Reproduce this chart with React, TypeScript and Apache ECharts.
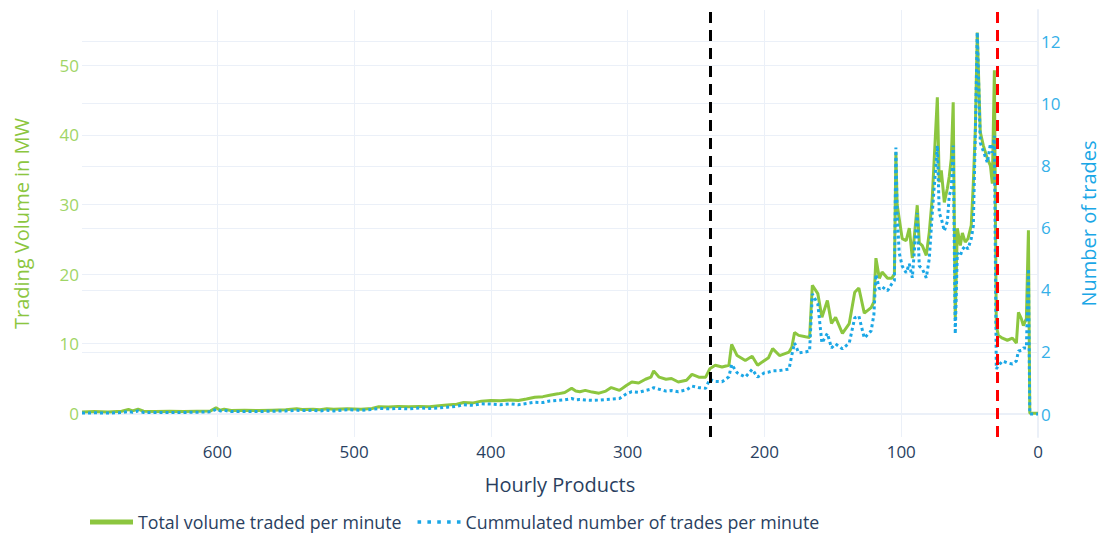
import React, { useEffect, useRef } from "react";
import * as echarts from "echarts";

// Hourly products (minutes before delivery), volume (MW) and number of trades
const minutes = [
  699, 690, 680, 670, 665, 662, 658, 654, 645, 635, 625, 615, 605, 601, 598, 595, 590, 580, 570, 560, 550, 542, 538, 530, 525, 520,
  515, 505, 495, 487, 482, 475, 468, 460, 452, 445, 438, 432, 425, 420, 413, 407, 400, 393, 386, 380, 374, 368, 362, 357, 351, 346, 341, 338,
  335, 331, 326, 321, 316, 312, 306, 301, 297, 292, 287, 283, 281, 277, 272, 268, 263, 257, 253, 248, 243, 240, 236, 231, 226, 224, 220, 214, 209, 205, 200,
  197, 194, 189, 182, 180, 178, 175, 170, 167, 165, 161, 158, 154, 151, 148, 143, 138, 134, 131, 127, 122, 120, 118.5, 116, 114, 110, 107, 105,
  103.9, 103, 101.5, 99.3, 96.4, 94.1, 91.9, 88.3, 86.8, 84.6, 81.7, 79.5, 77.3, 73.6, 72.2, 70.7, 68.5, 66.3, 64.9, 63.4, 62, 60.5, 59, 56.8, 55.3,
  53.2, 51.2, 48.8, 47.3, 45.8, 44.4, 42.2, 40, 37, 34.8, 33.4, 31.9, 30.5, 29, 26, 22.4, 18.7, 15.8, 14.3, 12.2, 10.7, 8.5, 7, 6, 3, 0,
];

const volumeMW = [
  0.2, 0.25, 0.2, 0.3, 0.55, 0.35, 0.6, 0.3, 0.25, 0.3, 0.25, 0.3, 0.35, 0.8, 0.45, 0.6, 0.4, 0.45, 0.4, 0.45, 0.5, 0.65, 0.55, 0.6, 0.5, 0.65,
  0.6, 0.65, 0.6, 0.7, 0.95, 0.9, 1.0, 0.95, 1.0, 0.95, 1.1, 1.2, 1.3, 1.55, 1.5, 1.75, 1.85, 1.8, 1.9, 1.85, 2.05, 2.3, 2.4, 2.6, 2.8, 3.0, 3.6, 3.2,
  3.1, 3.3, 3.05, 2.9, 3.2, 3.7, 3.3, 4.0, 4.5, 4.35, 4.9, 5.2, 6.1, 5.2, 4.9, 5.0, 4.5, 4.75, 5.6, 5.2, 5.2, 6.4, 6.9, 6.65, 6.9, 9.9, 8.3, 7.6, 8.2, 6.9, 7.6,
  8.0, 9.3, 8.3, 8.8, 9.5, 11.6, 11.2, 11.0, 10.9, 18.4, 17.2, 13.8, 16.2, 12.9, 13.8, 11.5, 12.9, 17.4, 18.0, 14.4, 15.2, 16.0, 22.3, 19.4, 20.3, 19.4, 19.4, 20.0,
  37.5, 30.0, 28.0, 25.1, 24.8, 26.6, 22.3, 29.9, 24.5, 24.1, 22.7, 26.0, 31.0, 45.4, 33.2, 34.9, 30.3, 32.3, 34.0, 36.6, 44.7, 13.6, 26.6, 24.1, 25.9,
  24.6, 25.1, 27.0, 33.0, 40.9, 54.7, 40.4, 38.5, 36.6, 35.6, 33.0, 49.3, 12.6, 11.2, 10.8, 10.5, 10.8, 10.1, 14.5, 13.6, 12.6, 13.6, 26.3, 0, 0, 0,
];

const trades = [
  0.03, 0.04, 0.03, 0.05, 0.08, 0.06, 0.1, 0.05, 0.05, 0.05, 0.05, 0.06, 0.07, 0.15, 0.1, 0.12, 0.08, 0.08, 0.08, 0.09, 0.1, 0.12, 0.11, 0.12, 0.1, 0.12,
  0.1, 0.14, 0.12, 0.15, 0.18, 0.17, 0.18, 0.17, 0.2, 0.18, 0.2, 0.22, 0.25, 0.3, 0.28, 0.33, 0.32, 0.3, 0.33, 0.3, 0.34, 0.38, 0.37, 0.42, 0.44, 0.46, 0.5, 0.46,
  0.47, 0.45, 0.44, 0.45, 0.47, 0.48, 0.5, 0.65, 0.72, 0.7, 0.76, 0.8, 0.85, 0.8, 0.74, 0.76, 0.72, 0.78, 0.9, 0.85, 0.83, 1.12, 1.05, 1.04, 1.2, 1.6, 1.33, 1.19, 1.44, 1.19, 1.33,
  1.35, 1.39, 1.4, 1.45, 1.9, 2.29, 1.97, 2.0, 2.03, 3.87, 3.55, 2.29, 2.6, 2.13, 2.26, 2.1, 2.29, 3.1, 3.16, 2.45, 2.68, 3.2, 4.5, 4.03, 4.1, 3.97, 4.19, 4.3,
  8.59, 6.5, 5.2, 4.77, 4.55, 4.84, 4.39, 6.48, 4.77, 4.68, 4.39, 5.0, 6.48, 8.65, 6.48, 6.3, 5.9, 6.2, 7.03, 7.26, 8.65, 2.58, 5.19, 5.1, 5.3,
  5.42, 5.32, 5.65, 6.06, 9.06, 12.3, 8.74, 8.48, 8.1, 8.71, 8.42, 8.97, 1.45, 1.55, 1.71, 1.65, 1.61, 1.71, 2.03, 2.05, 2.13, 2.13, 4.68, 0, 0, 0,
];

const xTicks = [0, 100, 200, 300, 400, 500, 600];
const volumeTicks = [0, 10, 20, 30, 40, 50];
const tradeTicks = [0, 2, 4, 6, 8, 10, 12];
const gateLines = [240, 30];

const seriesNames = ["Total volume traded per minute", "Cummulated number of trades per minute"];

const GREEN = "#8cc63f";
const BLUE = "#1ba7e6";
const GRID = "#EBF0F8";
const FONT = "Open Sans";

const SOLID_ICON = "path://M0,0H42V5H0Z";
const DOT_ICON = "path://M0,0H3.5V3.5H0ZM9.6,0H13.1V3.5H9.6ZM19.2,0H22.7V3.5H19.2ZM28.8,0H32.3V3.5H28.8ZM38.4,0H41.9V3.5H38.4Z";

export default function App() {
  const ref = useRef<HTMLDivElement>(null);

  useEffect(() => {
    if (!ref.current) return;
    const chart = echarts.init(ref.current, null, { renderer: "svg" });

    const volData = minutes.map((m, i) => [m, volumeMW[i]]);
    const tradeData = minutes.map((m, i) => [m, trades[i]]);

    chart.setOption({
      animation: false,
      backgroundColor: "#ffffff",
      textStyle: { fontFamily: FONT },
      grid: { left: 82, right: 63, top: 10, bottom: 99, containLabel: false, outerBoundsMode: "none" },
      legend: {
        show: true,
        left: 90,
        top: 513,
        padding: 0,
        itemWidth: 43,
        itemHeight: 14,
        itemGap: 16,
        textStyle: { fontFamily: FONT, fontSize: 17.8, color: "#2a3f5f" },
        data: [
          { name: seriesNames[0], icon: SOLID_ICON },
          { name: seriesNames[1], icon: DOT_ICON },
        ],
      },
      xAxis: {
        type: "value",
        inverse: true,
        min: 0,
        max: 699,
        name: "Hourly Products",
        nameLocation: "middle",
        nameGap: 37,
        nameTextStyle: { fontFamily: FONT, fontSize: 20, color: "#2a3f5f" },
        axisLine: { show: false },
        axisTick: { show: false, customValues: xTicks },
        axisLabel: { customValues: xTicks, fontFamily: FONT, fontSize: 17, color: "#2a3f5f", margin: 6 },
        splitLine: { show: true, lineStyle: { color: GRID, width: 1 } },
      },
      yAxis: [
        {
          type: "value",
          position: "left",
          min: -3.4,
          max: 57.95,
          name: "Trading Volume in MW",
          nameLocation: "middle",
          nameGap: 51,
          nameTextStyle: { fontFamily: FONT, fontSize: 20, color: GREEN },
          axisLine: { show: false },
          axisTick: { show: false, customValues: volumeTicks },
          axisLabel: { customValues: volumeTicks, fontFamily: FONT, fontSize: 17, color: "#9fd566", margin: 3 },
          splitLine: { show: true, lineStyle: { color: GRID, width: 1 } },
        },
        {
          type: "value",
          position: "right",
          min: -0.74,
          max: 13.02,
          name: "Number of trades",
          nameLocation: "middle",
          nameGap: 40,
          nameTextStyle: { fontFamily: FONT, fontSize: 20, color: BLUE },
          axisLine: { show: true, onZero: false, lineStyle: { color: GRID, width: 2 } },
          axisTick: { show: false, customValues: tradeTicks },
          axisLabel: { customValues: tradeTicks, fontFamily: FONT, fontSize: 17, color: "#35b0e8", margin: 3 },
          splitLine: { show: true, lineStyle: { color: GRID, width: 1 } },
        },
      ],
      series: [
        {
          name: seriesNames[0],
          type: "line",
          yAxisIndex: 0,
          data: volData,
          symbol: "none",
          showSymbol: false,
          color: GREEN,
          lineStyle: { color: GREEN, width: 3 },
          z: 2,
          markLine: {
            silent: true,
            symbol: "none",
            z: 1,
            label: { show: false },
            lineStyle: { color: GRID, width: 2, type: "solid" },
            data: [{ yAxis: 0 }],
          },
        },
        {
          name: seriesNames[1],
          type: "line",
          yAxisIndex: 1,
          data: tradeData,
          symbol: "none",
          showSymbol: false,
          color: BLUE,
          lineStyle: { color: BLUE, width: 3, type: [3, 3] },
          z: 3,
          markLine: {
            silent: true,
            symbol: "none",
            z: 6,
            label: { show: false },
            data: [
              { xAxis: gateLines[0], lineStyle: { color: "#000000", width: 3, type: [11, 7] } },
              { xAxis: gateLines[1], lineStyle: { color: "#ff0000", width: 3, type: [11, 7] } },
            ],
          },
        },
      ],
    });

    return () => chart.dispose();
  }, []);

  return (
    <div
      ref={ref}
      style={{ position: "fixed", left: 0, top: 0, width: 1101, height: 536, background: "#fff" }}
    />
  );
}
